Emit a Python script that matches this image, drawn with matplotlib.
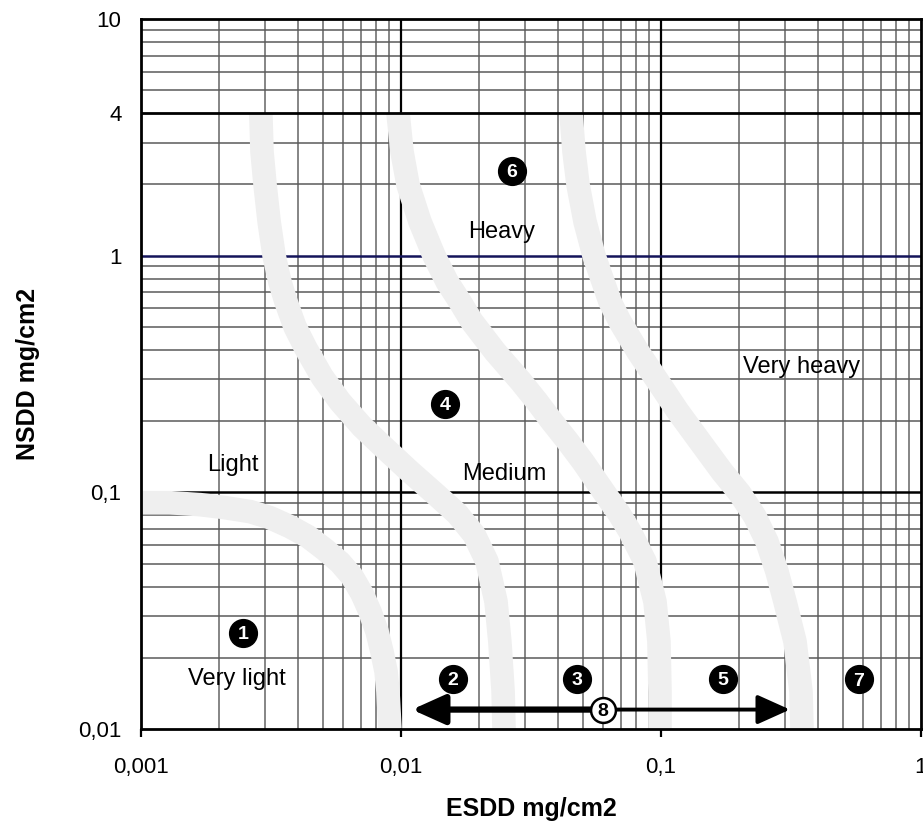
import matplotlib
matplotlib.use('Agg')
import matplotlib.pyplot as plt
from matplotlib.ticker import FixedLocator, FixedFormatter, NullLocator

plt.rcParams['font.family'] = ['Liberation Sans', 'DejaVu Sans']

# axis ticks
x_ticks = [0.001, 0.01, 0.1, 1]
x_tick_labels = ['0,001', '0,01', '0,1', '1']
y_ticks = [0.01, 0.1, 1, 4, 10]
y_tick_labels = ['0,01', '0,1', '1', '4', '10']

# pollution class boundaries (ESDD, NSDD)
curve1_esdd = [0.001, 0.00129, 0.00169, 0.0021, 0.00263, 0.00313, 0.00374, 0.00439, 0.0051,
               0.00583, 0.00648, 0.00708, 0.0076, 0.00809, 0.00845, 0.00876, 0.00891, 0.00907]
curve1_nsdd = [0.0904, 0.0904, 0.0887, 0.0862, 0.0829, 0.0782, 0.0716, 0.065, 0.0573,
               0.0505, 0.0441, 0.0373, 0.0313, 0.0258, 0.0212, 0.0175, 0.0144, 0.01]

curve2_esdd = [0.00289, 0.00292, 0.0030, 0.00311, 0.00325, 0.00342, 0.00361, 0.00391, 0.00431,
               0.00497, 0.00583, 0.00708, 0.00853, 0.01083, 0.01351, 0.01643, 0.0191, 0.02142,
               0.0232, 0.024, 0.0247, 0.0249]
curve2_nsdd = [4, 2.75, 1.995, 1.392, 1, 0.777, 0.639, 0.501, 0.405,
               0.308, 0.2416, 0.1895, 0.156, 0.1223, 0.0987, 0.0813, 0.0663, 0.051,
               0.0345, 0.0234, 0.0144, 0.01]

curve3_esdd = [0.00974, 0.01009, 0.01064, 0.01183, 0.0134, 0.01503, 0.01686, 0.01876, 0.023,
               0.02894, 0.03336, 0.0381, 0.04388, 0.0501, 0.0609, 0.06895, 0.076, 0.08679,
               0.09483, 0.0982, 0.0991, 0.0991]
curve3_nsdd = [4, 2.75, 1.995, 1.392, 1, 0.777, 0.639, 0.526, 0.393,
               0.2936, 0.2416, 0.1989, 0.1637, 0.1348, 0.0987, 0.0813, 0.0682, 0.051,
               0.0345, 0.0234, 0.0144, 0.01]

curve4_esdd = [0.04507, 0.04628, 0.04796, 0.05102, 0.05525, 0.05983, 0.06365, 0.06956, 0.08153,
               0.09738, 0.1163, 0.1413, 0.1717, 0.2013, 0.2299, 0.2557, 0.2794, 0.2999,
               0.3277, 0.3455, 0.3485]
curve4_nsdd = [4, 2.75, 1.995, 1.392, 1, 0.777, 0.639, 0.526, 0.393,
               0.2936, 0.2193, 0.1637, 0.1223, 0.0987, 0.0789, 0.0619, 0.0462, 0.0345,
               0.0234, 0.0144, 0.01]

# zone names
zone_names = ['Very light', 'Light', 'Medium', 'Heavy', 'Very heavy']
zone_esdd = [0.00234, 0.00226, 0.0249, 0.0244, 0.3485]
zone_nsdd = [0.0162, 0.131, 0.12, 1.263, 0.34]

# numbered points
point_numbers = ['1', '2', '3', '4', '5', '6', '7']
point_esdd = [0.00247, 0.01585, 0.04753, 0.01476, 0.1732, 0.02673, 0.5774]
point_nsdd = [0.02555, 0.0163, 0.0163, 0.2369, 0.0163, 2.286, 0.01621]

# range arrow (point 8)
arrow_center = (0.0598, 0.01208)
arrow_left = (0.01102, 0.01208)
arrow_right = (0.3133, 0.01208)

fig = plt.figure(figsize=(9.23, 8.26), dpi=100, facecolor='white')
ax = fig.add_axes([141 / 923, 1 - 729 / 826, 780 / 923, 710 / 826])
ax.set_xscale('log')
ax.set_yscale('log')
ax.set_xlim(0.001, 1)
ax.set_ylim(0.01, 10)

# minor grid
for dec in [0.001, 0.01, 0.1]:
    for m in range(2, 10):
        ax.axvline(dec * m, color='#858585', lw=1.4, zorder=1)
for dec in [0.01, 0.1, 1]:
    for m in range(2, 10):
        if dec * m == 4:
            continue
        ax.axhline(dec * m, color='#5a5a5a', lw=1.1, zorder=1)

# major lines
for v in [0.01, 0.1]:
    ax.axvline(v, color='black', lw=1.6, zorder=2)
ax.axhline(0.1, color='black', lw=1.8, zorder=2)
ax.axhline(1, color='#14145a', lw=1.8, zorder=2)

# boundary bands
for cx, cy in [(curve1_esdd, curve1_nsdd), (curve2_esdd, curve2_nsdd),
               (curve3_esdd, curve3_nsdd), (curve4_esdd, curve4_nsdd)]:
    ax.plot(cx, cy, color='#efefef', lw=17, solid_capstyle='butt',
            solid_joinstyle='round', zorder=3)

ax.axhline(4, color='black', lw=2.0, zorder=4)

# zone labels
for name, x, y in zip(zone_names, zone_esdd, zone_nsdd):
    ax.text(x, y, name, fontsize=17, ha='center', va='center', zorder=6)

# numbered black circles
ax.scatter(point_esdd, point_nsdd, s=400, color='black', zorder=6)
for num, x, y in zip(point_numbers, point_esdd, point_nsdd):
    ax.annotate(num, (x, y), xytext=(0, -1.5), textcoords='offset points',
                fontsize=14, fontweight='bold', color='white',
                ha='center', va='center', zorder=7)

# double arrow
ax.annotate('', xy=arrow_left, xytext=arrow_center,
            arrowprops=dict(arrowstyle='-|>,head_length=1.0,head_width=0.45',
                            mutation_scale=20, color='black', lw=4.5,
                            shrinkA=0, shrinkB=0), zorder=5)
ax.annotate('', xy=arrow_right, xytext=arrow_center,
            arrowprops=dict(arrowstyle='-|>,head_length=1.0,head_width=0.45',
                            mutation_scale=20, color='black', lw=2.8,
                            shrinkA=0, shrinkB=0), zorder=5)
ax.scatter([arrow_center[0]], [arrow_center[1]], s=320, facecolor='white',
           edgecolor='black', linewidth=1.8, zorder=6)
ax.annotate('8', arrow_center, xytext=(0, -1.5), textcoords='offset points',
            fontsize=14, fontweight='bold', color='black',
            ha='center', va='center', zorder=7)

# ticks
ax.xaxis.set_major_locator(FixedLocator(x_ticks))
ax.xaxis.set_major_formatter(FixedFormatter(x_tick_labels))
ax.xaxis.set_minor_locator(NullLocator())
ax.yaxis.set_major_locator(FixedLocator(y_ticks))
ax.yaxis.set_major_formatter(FixedFormatter(y_tick_labels))
ax.yaxis.set_minor_locator(NullLocator())
ax.tick_params(axis='x', length=6, width=1.6, direction='out', labelsize=16, pad=14)
ax.tick_params(axis='y', length=0, labelsize=16, pad=14)

for spine in ax.spines.values():
    spine.set_linewidth(2.0)
    spine.set_color('black')
    spine.set_zorder(8)

ax.set_xlabel('ESDD mg/cm2', fontsize=18, fontweight='bold')
ax.xaxis.set_label_coords(0.5, -0.1127)
ax.xaxis.label.set_va('center')
ax.set_ylabel('NSDD mg/cm2', fontsize=18, fontweight='bold')
ax.yaxis.set_label_coords(-0.1449, 0.5)
ax.yaxis.label.set_va('center')

fig.savefig('out.png', dpi=100, facecolor='white')
